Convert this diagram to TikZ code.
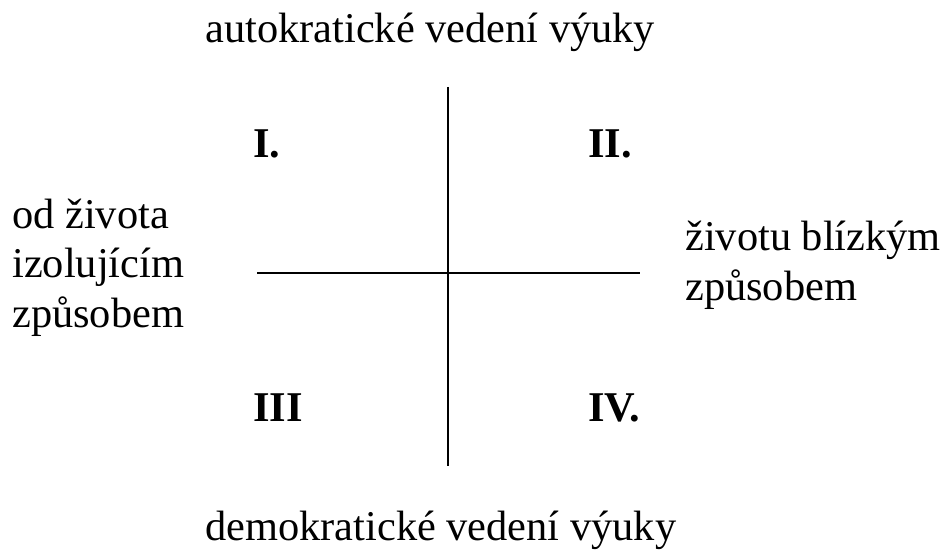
\documentclass[tikz,border=0pt]{standalone}
\usepackage{fontspec}
\setmainfont{Liberation Serif}
\begin{document}
\begin{tikzpicture}[x=0.75pt,y=-0.75pt,
  lbl/.style={inner sep=0pt,anchor=base west,font=\fontsize{31.8}{37}\selectfont},
  num/.style={lbl,font=\fontsize{31.8}{37}\selectfont\bfseries},
  axis/.style={line width=1.5pt}]
\useasboundingbox[fill=white] (0,0) rectangle (944,549);
\coordinate (vtop) at (448,87);
\coordinate (vbot) at (448,466);
\coordinate (hleft) at (257,273);
\coordinate (hright) at (640,273);
\draw[axis] (vtop) -- (vbot);
\draw[axis] (hleft) -- (hright);
\node[lbl] (top) at (205,43) {autokratické vedení výuky};
\node[lbl] (bot) at (205,540) {demokratické vedení výuky};
\node[lbl] (l1) at (12,228) {od života};
\node[lbl] (l2) at (12,277) {izolujícím};
\node[lbl] (l3) at (12,327) {způsobem};
\node[lbl] (r1) at (685,250) {životu blízkým};
\node[lbl] (r2) at (685,300) {způsobem};
\node[num] (q1) at (253,157) {I.};
\node[num] (q2) at (588,157) {II.};
\node[num] (q3) at (253,421) {III};
\node[num] (q4) at (588,421) {IV.};
\end{tikzpicture}
\end{document}
